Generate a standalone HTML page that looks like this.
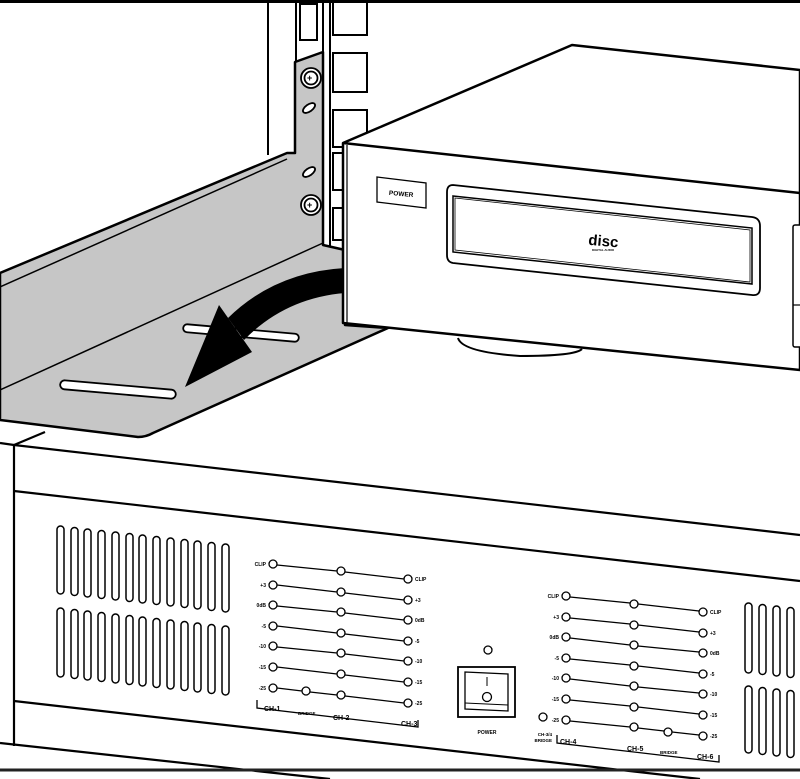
<!DOCTYPE html>
<html><head><meta charset="utf-8"><style>
html,body{margin:0;padding:0;background:#fff}
svg{display:block}
text{font-family:"Liberation Sans",sans-serif;font-weight:bold;fill:#000}
</style></head><body>
<svg width="800" height="779" viewBox="0 0 800 779" xmlns="http://www.w3.org/2000/svg">
<rect width="800" height="779" fill="#fff"/>
<line x1="0" y1="1.5" x2="800" y2="1.5" stroke="#000" stroke-width="3"/>

<!-- rack posts -->
<g stroke="#000" stroke-width="2" fill="none">
<line x1="268" y1="0" x2="268" y2="155"/>
<line x1="296" y1="0" x2="296" y2="62"/>
<rect x="300" y="4" width="17" height="36"/>
<line x1="323" y1="0" x2="323" y2="245"/>
<path d="M323 245 Q323 250 330 250 L345 250"/>
<line x1="330" y1="0" x2="330" y2="250"/>
<rect x="333" y="2" width="34" height="33"/>
<rect x="333" y="53" width="34" height="39"/>
<rect x="333" y="110" width="34" height="37"/>
<rect x="333" y="153" width="34" height="37"/>
<rect x="333" y="208" width="34" height="32"/>
</g>

<!-- bracket -->
<path d="M0 273 L287 153 L295 153 L295 62 L323 52 L323 245 L345 250 L345 325 L388 328 L153 433 Q146 437 138 437 L0 420 Z" fill="#c6c6c6" stroke="#000" stroke-width="2.5" stroke-linejoin="round"/>
<line x1="0" y1="287" x2="287" y2="159" stroke="#000" stroke-width="1.5"/>
<line x1="0" y1="390" x2="323" y2="243" stroke="#000" stroke-width="1.5"/>
<!-- screws -->
<g stroke="#000" stroke-width="1.8" fill="#fff">
<circle cx="311" cy="78" r="10"/><circle cx="311" cy="78" r="6.5"/>
<circle cx="311" cy="205" r="10"/><circle cx="311" cy="205" r="6.5"/>
<ellipse cx="309" cy="108" rx="7" ry="3.5" transform="rotate(-35 309 108)"/>
<ellipse cx="309" cy="172" rx="7" ry="3.5" transform="rotate(-35 309 172)"/>
</g>
<text x="307" y="81" font-size="9">+</text><text x="307" y="208" font-size="9">+</text>
<!-- slots -->
<g stroke="#000" stroke-width="1.8" fill="#fff">
<rect x="183" y="329" width="116" height="8" rx="4" transform="rotate(5 241 333)"/>
<rect x="60" y="385" width="116" height="9" rx="4.5" transform="rotate(5 118 389)"/>
</g>
<!-- arrow -->
<path d="M345 268 Q275 272 228 318 L244 340 Q285 298 345 293 Z" fill="#000"/>
<path d="M185 387 L219 305 L252 352 Z" fill="#000"/>

<!-- CD player -->
<path d="M343 143 L572 45 L800 70 L800 370 L343 323 Z" fill="#fff" stroke="#000" stroke-width="2.5" stroke-linejoin="round"/>
<line x1="343" y1="143" x2="800" y2="193" stroke="#000" stroke-width="2.5"/>
<line x1="347" y1="145" x2="347" y2="323" stroke="#000" stroke-width="1.2"/>
<path d="M458 338 Q462 352 520 356 Q575 356 582 349" fill="#fff" stroke="#000" stroke-width="2"/>
<polygon points="377,177 426,183 426,208 377,202" fill="#fff" stroke="#000" stroke-width="1.3"/>
<text x="401" y="196" font-size="6.5" text-anchor="middle" transform="rotate(5 401 196)">POWER</text>
<path d="M453 185 L752 217 Q760 218 760 226 L760 288 Q760 296 752 295 L453 263 Q447 262 447 255 L447 192 Q447 185 453 185 Z" fill="#fff" stroke="#000" stroke-width="1.8"/>
<path d="M453 196 L752 228 L752 284 L453 252 Z" fill="none" stroke="#000" stroke-width="1.5"/>
<path d="M455 198 L750 230 L750 282 L455 250 Z" fill="none" stroke="#000" stroke-width="0.8"/>
<text x="603" y="246" font-size="15" text-anchor="middle" style="font-family:'Liberation Sans Narrow','Liberation Sans',sans-serif" transform="rotate(5 603 246)">disc</text>
<text x="603" y="251" font-size="3" text-anchor="middle">DIGITAL AUDIO</text>
<rect x="793" y="225" width="10" height="122" rx="2" fill="#fff" stroke="#000" stroke-width="1.5"/>
<line x1="793" y1="305" x2="800" y2="305" stroke="#000" stroke-width="1.2"/>

<!-- amplifier -->
<g stroke="#000" stroke-width="2.2" fill="none">
<line x1="14" y1="445" x2="14" y2="746"/>
<line x1="0" y1="443" x2="14" y2="445"/>
<line x1="14" y1="445" x2="45" y2="432"/>
<line x1="14" y1="445" x2="800" y2="535"/>
<line x1="14" y1="491" x2="800" y2="581"/>
<line x1="14" y1="701" x2="700" y2="779"/>
<line x1="0" y1="743" x2="330" y2="779"/>
</g>
<line x1="0" y1="770" x2="800" y2="770" stroke="#222" stroke-width="3"/>

<!-- vents -->
<g stroke="#000" stroke-width="1.5" fill="none" id="vents">
<rect x="57" y="526" width="7" height="68" rx="3.5"/><rect x="71" y="527.5" width="7" height="68" rx="3.5"/><rect x="84" y="529" width="7" height="68" rx="3.5"/><rect x="98" y="530.5" width="7" height="68" rx="3.5"/><rect x="112" y="532" width="7" height="68" rx="3.5"/><rect x="126" y="533.5" width="7" height="68" rx="3.5"/><rect x="139" y="535" width="7" height="68" rx="3.5"/><rect x="153" y="536.5" width="7" height="68" rx="3.5"/><rect x="167" y="538" width="7" height="68" rx="3.5"/><rect x="181" y="539.5" width="7" height="68" rx="3.5"/><rect x="194" y="541" width="7" height="68" rx="3.5"/><rect x="208" y="542.5" width="7" height="68" rx="3.5"/><rect x="222" y="544" width="7" height="68" rx="3.5"/>
<rect x="57" y="608" width="7" height="69" rx="3.5"/><rect x="71" y="609.5" width="7" height="69" rx="3.5"/><rect x="84" y="611" width="7" height="69" rx="3.5"/><rect x="98" y="612.5" width="7" height="69" rx="3.5"/><rect x="112" y="614" width="7" height="69" rx="3.5"/><rect x="126" y="615.5" width="7" height="69" rx="3.5"/><rect x="139" y="617" width="7" height="69" rx="3.5"/><rect x="153" y="618.5" width="7" height="69" rx="3.5"/><rect x="167" y="620" width="7" height="69" rx="3.5"/><rect x="181" y="621.5" width="7" height="69" rx="3.5"/><rect x="194" y="623" width="7" height="69" rx="3.5"/><rect x="208" y="624.5" width="7" height="69" rx="3.5"/><rect x="222" y="626" width="7" height="69" rx="3.5"/>
<rect x="745" y="603" width="7" height="70" rx="3.5"/><rect x="759" y="604.5" width="7" height="70" rx="3.5"/><rect x="773" y="606" width="7" height="70" rx="3.5"/><rect x="787" y="607.5" width="7" height="70" rx="3.5"/>
<rect x="745" y="686" width="7" height="67" rx="3.5"/><rect x="759" y="687.5" width="7" height="67" rx="3.5"/><rect x="773" y="689" width="7" height="67" rx="3.5"/><rect x="787" y="690.5" width="7" height="67" rx="3.5"/>
</g>

<!-- LED panel 1 -->
<g stroke="#000" stroke-width="1.3" fill="none">
<path d="M277 565 L337 571 M345 572 L404 579 M277 585 L337 592 M345 593 L404 600 M277 606 L337 612 M345 613 L404 620 M277 626 L337 633 M345 634 L404 641 M277 647 L337 653 M345 654 L404 661 M277 667 L337 674 M345 675 L404 682 M277 688 L302 691 M310 692 L337 695 M345 696 L404 703"/>
<path d="M257 706 L257 700 L257 708 L418 727 L418 720"/>
</g>
<g stroke="#000" stroke-width="1.3" fill="#fff">
<circle cx="273" cy="564" r="4"/><circle cx="273" cy="585" r="4"/><circle cx="273" cy="605" r="4"/><circle cx="273" cy="626" r="4"/><circle cx="273" cy="646" r="4"/><circle cx="273" cy="667" r="4"/><circle cx="273" cy="688" r="4"/>
<circle cx="341" cy="571" r="4"/><circle cx="341" cy="592" r="4"/><circle cx="341" cy="612" r="4"/><circle cx="341" cy="633" r="4"/><circle cx="341" cy="653" r="4"/><circle cx="341" cy="674" r="4"/><circle cx="341" cy="695" r="4"/>
<circle cx="408" cy="579" r="4"/><circle cx="408" cy="600" r="4"/><circle cx="408" cy="620" r="4"/><circle cx="408" cy="641" r="4"/><circle cx="408" cy="661" r="4"/><circle cx="408" cy="682" r="4"/><circle cx="408" cy="703" r="4"/>
<circle cx="306" cy="691" r="4"/>
</g>
<g font-size="5" text-anchor="end">
<text x="266" y="566">CLIP</text><text x="266" y="587">+3</text><text x="266" y="607">0dB</text><text x="266" y="628">-5</text><text x="266" y="648">-10</text><text x="266" y="669">-15</text><text x="266" y="690">-25</text>
</g>
<g font-size="5">
<text x="415" y="581">CLIP</text><text x="415" y="602">+3</text><text x="415" y="622">0dB</text><text x="415" y="643">-5</text><text x="415" y="663">-10</text><text x="415" y="684">-15</text><text x="415" y="705">-25</text>
<text x="264" y="711" font-size="7">CH-1</text><text x="298" y="715" font-size="4.5">BRIDGE</text><text x="333" y="720" font-size="7">CH-2</text><text x="401" y="726" font-size="7">CH-3</text>
</g>

<!-- power -->
<circle cx="488" cy="650" r="4" fill="#fff" stroke="#000" stroke-width="1.3"/>
<rect x="458" y="667" width="57" height="50" fill="#fff" stroke="#000" stroke-width="1.8"/>
<path d="M465 672 L508 674 L508 711 L465 709 Z" fill="#fff" stroke="#000" stroke-width="1.3"/>
<path d="M465 703 L508 705" stroke="#000" stroke-width="1"/>
<line x1="487" y1="677" x2="487" y2="686" stroke="#000" stroke-width="1"/>
<circle cx="487" cy="697" r="4.5" fill="#fff" stroke="#000" stroke-width="1.3"/>
<text x="487" y="734" font-size="5" text-anchor="middle">POWER</text>

<!-- LED panel 2 -->
<g stroke="#000" stroke-width="1.3" fill="none">
<path d="M570 597 L630 603 M638 604 L699 611 M570 618 L630 624 M638 625 L699 632 M570 638 L630 645 M638 646 L699 652 M570 659 L630 665 M638 666 L699 673 M570 679 L630 686 M638 687 L699 693 M570 700 L630 706 M638 707 L699 714 M570 721 L630 727 M638 728 L664 731 M672 732 L699 735"/>
<path d="M557 741 L557 735 L557 743 L719 762 L719 755"/>
</g>
<g stroke="#000" stroke-width="1.3" fill="#fff">
<circle cx="566" cy="596" r="4"/><circle cx="566" cy="617" r="4"/><circle cx="566" cy="637" r="4"/><circle cx="566" cy="658" r="4"/><circle cx="566" cy="678" r="4"/><circle cx="566" cy="699" r="4"/><circle cx="566" cy="720" r="4"/>
<circle cx="634" cy="604" r="4"/><circle cx="634" cy="625" r="4"/><circle cx="634" cy="645" r="4"/><circle cx="634" cy="666" r="4"/><circle cx="634" cy="686" r="4"/><circle cx="634" cy="707" r="4"/><circle cx="634" cy="727" r="4"/>
<circle cx="703" cy="612" r="4"/><circle cx="703" cy="633" r="4"/><circle cx="703" cy="653" r="4"/><circle cx="703" cy="674" r="4"/><circle cx="703" cy="694" r="4"/><circle cx="703" cy="715" r="4"/><circle cx="703" cy="736" r="4"/>
<circle cx="668" cy="732" r="4"/><circle cx="543" cy="717" r="4"/>
</g>
<g font-size="5" text-anchor="end">
<text x="559" y="598">CLIP</text><text x="559" y="619">+3</text><text x="559" y="639">0dB</text><text x="559" y="660">-5</text><text x="559" y="680">-10</text><text x="559" y="701">-15</text><text x="559" y="722">-25</text>
<text x="552" y="736" font-size="4.5">CH-3/4</text><text x="552" y="742" font-size="4.5">BRIDGE</text>
</g>
<g font-size="5">
<text x="710" y="614">CLIP</text><text x="710" y="635">+3</text><text x="710" y="655">0dB</text><text x="710" y="676">-5</text><text x="710" y="696">-10</text><text x="710" y="717">-15</text><text x="710" y="738">-25</text>
<text x="560" y="744" font-size="7">CH-4</text><text x="627" y="751" font-size="7">CH-5</text><text x="660" y="754" font-size="4.5">BRIDGE</text><text x="697" y="759" font-size="7">CH-6</text>
</g>
</svg>
</body></html>
